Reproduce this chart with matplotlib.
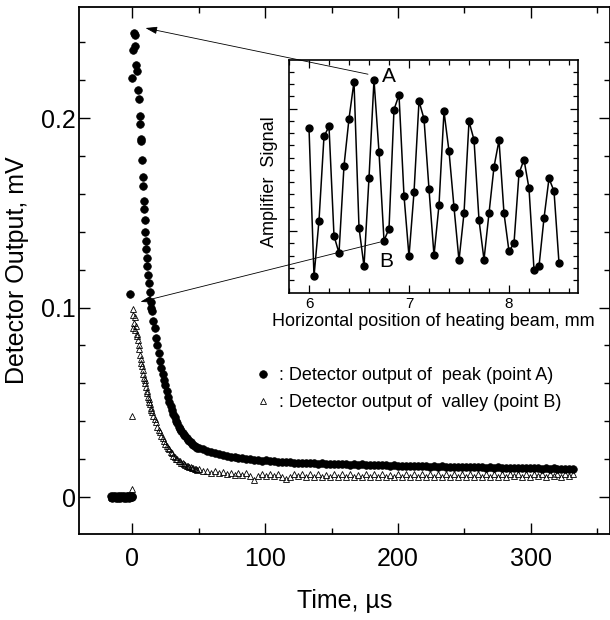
import numpy as np
import matplotlib
matplotlib.use('Agg')
import matplotlib.pyplot as plt
from matplotlib.ticker import MultipleLocator, FixedLocator, NullFormatter

plt.rcParams['font.family'] = ['Liberation Sans', 'DejaVu Sans']

# ---- main plot data (time in us, output in mV) ----
# point A (peak), filled circles
a_base_t = np.arange(-16, 0.5, 0.5)
a_base_v = [0.0003, -0.0004, 0.0001, 0.0005, -0.0002, 0.0, 0.0004, -0.0005, 0.0002, -0.0001,
            0.0006, -0.0003, 0.0, 0.0003, -0.0006, 0.0002, 0.0004, -0.0002, 0.0001, -0.0004,
            0.0005, 0.0, -0.0003, 0.0002, 0.0006, -0.0001, 0.0003, -0.0005, 0.0001, 0.0004,
            -0.0002, 0.0, 0.0003]
a_peak_t = [-1.5, 0.0, 0.9, 1.5, 1.8, 2.0, 2.9, 3.8, 4.4, 5.0,
            5.9, 6.2, 6.8, 7.0, 7.4, 7.9, 8.2, 8.8, 9.1, 9.4,
            9.7, 10.3, 10.6, 11.2, 11.5, 12.0, 12.6, 13.2, 13.8, 14.4]
a_peak_v = [0.107, 0.221, 0.236, 0.245, 0.244, 0.238, 0.228, 0.225, 0.215, 0.210,
            0.201, 0.197, 0.189, 0.188, 0.178, 0.169, 0.164, 0.156, 0.152, 0.146,
            0.140, 0.135, 0.131, 0.126, 0.122, 0.117, 0.113, 0.108, 0.103, 0.100]
mid_t = np.arange(15, 50, 1)
a_mid_v = [0.098, 0.093, 0.089, 0.084, 0.080, 0.076, 0.072, 0.068, 0.065, 0.062,
           0.059, 0.056, 0.053, 0.050, 0.048, 0.046, 0.044, 0.042, 0.040, 0.039,
           0.037, 0.036, 0.035, 0.034, 0.033, 0.032, 0.031, 0.030, 0.0295, 0.0288,
           0.028, 0.0275, 0.027, 0.0265, 0.026]
tail_t = np.arange(50, 335, 3)
# tail values in uV
a_tail_uv = [25.7, 25.1, 24.3, 23.8, 23.0, 22.7, 22.0, 21.8, 21.2, 21.1,
             20.5, 20.5, 20.0, 20.0, 19.6, 19.6, 19.2, 19.3, 18.9, 19.0,
             18.6, 18.7, 18.4, 18.4, 18.1, 18.2, 18.0, 18.0, 17.8, 17.9,
             17.6, 17.8, 17.5, 17.6, 17.4, 17.5, 17.3, 17.4, 17.1, 17.3,
             17.0, 17.2, 16.9, 17.0, 16.8, 17.0, 16.7, 16.8, 16.6, 16.8,
             16.5, 16.6, 16.4, 16.6, 16.3, 16.4, 16.2, 16.4, 16.1, 16.2,
             16.0, 16.2, 15.9, 16.0, 15.8, 16.0, 15.7, 15.9, 15.6, 15.8,
             15.6, 15.7, 15.5, 15.6, 15.4, 15.6, 15.3, 15.5, 15.3, 15.4,
             15.2, 15.4, 15.1, 15.3, 15.1, 15.2, 15.0, 15.2, 14.9, 15.1,
             14.9, 15.0, 14.8, 15.0, 14.8]

# point B (valley), open triangles
b_base_t = np.arange(-16, 1, 1)
b_base_v = [0.0002, -0.0003, 0.0004, 0.0, -0.0002, 0.0003, -0.0004, 0.0001, 0.0005, -0.0001,
            0.0002, -0.0003, 0.0, 0.0004, -0.0002, 0.0001, 0.0040]
b_peak_t = [0.0, 0.3, 0.5, 1.0, 1.5, 2.0, 2.5, 3.0, 3.5, 4.0,
            4.5, 5.0, 5.5, 6.0, 6.5, 7.0, 7.5, 8.0, 8.5, 9.0,
            9.5, 10.0, 10.5, 11.0, 11.5, 12.0, 12.5, 13.0, 13.5, 14.0, 14.5]
b_peak_v = [0.043, 0.089, 0.099, 0.096, 0.092, 0.095, 0.088, 0.090, 0.086, 0.085,
            0.083, 0.080, 0.078, 0.075, 0.073, 0.071, 0.069, 0.067, 0.065, 0.063,
            0.062, 0.060, 0.058, 0.056, 0.055, 0.053, 0.052, 0.050, 0.049, 0.047, 0.046]
b_mid_v = [0.045, 0.043, 0.041, 0.0395, 0.037, 0.0355, 0.0345, 0.032, 0.031, 0.0298,
           0.028, 0.0272, 0.0258, 0.0252, 0.0238, 0.0232, 0.0218, 0.0212, 0.0203, 0.0199,
           0.0190, 0.0188, 0.0180, 0.0179, 0.0172, 0.0171, 0.0165, 0.0164, 0.0158, 0.0159,
           0.0153, 0.0153, 0.0148, 0.0149, 0.0145]
b_tail_uv = [14.6, 13.6, 14.0, 12.9, 13.5, 12.5, 13.1, 12.0, 12.8, 11.8,
             12.7, 11.5, 12.5, 11.3, 9.0, 11.2, 12.3, 11.1, 12.2, 10.9,
             12.1, 10.8, 9.6, 10.8, 12.0, 10.9, 11.9, 10.6, 12.0, 10.8,
             11.9, 10.6, 11.8, 10.8, 12.0, 10.5, 11.9, 10.7, 12.0, 10.6,
             11.8, 10.5, 12.0, 10.8, 11.9, 10.5, 12.0, 10.7, 11.8, 10.8,
             12.0, 10.5, 11.9, 10.7, 12.0, 10.8, 11.9, 10.5, 12.1, 10.7,
             11.9, 10.8, 12.0, 10.5, 11.9, 10.7, 12.1, 10.8, 11.9, 10.7,
             12.0, 10.8, 11.9, 10.7, 12.1, 10.8, 12.0, 10.7, 11.9, 10.9,
             12.1, 10.8, 12.0, 10.7, 12.1, 10.9, 12.0, 10.8, 12.1, 10.9,
             12.0, 10.8, 12.1, 10.9, 12.0]

# ---- inset data ----
pos_mm = np.round(np.arange(6.0, 8.501, 0.05), 2)
amp_signal = [13.44, 1.32, 5.87, 12.73, 13.54, 4.62, 3.22, 10.33, 14.17, 17.19,
              5.30, 2.14, 9.35, 17.33, 11.46, 4.24, 5.19, 14.92, 16.11, 7.89,
              2.95, 8.16, 15.60, 14.17, 8.43, 3.03, 7.14, 14.76, 11.52, 6.95,
              2.62, 6.46, 13.95, 12.46, 5.92, 2.68, 6.46, 10.24, 12.41, 6.46,
              3.35, 4.03, 9.71, 10.84, 8.49, 1.87, 2.14, 6.06, 9.30, 8.27, 2.41]

a_t = np.concatenate([a_base_t, a_peak_t, mid_t, tail_t])
a_v = np.concatenate([a_base_v, a_peak_v, a_mid_v, np.array(a_tail_uv) / 1000])
b_t = np.concatenate([b_base_t, b_peak_t, mid_t, tail_t])
b_v = np.concatenate([b_base_v, b_peak_v, b_mid_v, np.array(b_tail_uv) / 1000])

fig = plt.figure(figsize=(6.1, 6.2), dpi=100)
ax = fig.add_axes([79/610, 86/620, 531/610, 527/620])

lb, = ax.plot(b_t, b_v, ls='none', marker='^', ms=5, mfc='none', mec='k', mew=0.6,
              label=': Detector output of  valley (point B)')
la, = ax.plot(a_t, a_v, ls='none', marker='o', ms=5.5, mfc='k', mec='k', mew=0.5,
              label=': Detector output of  peak (point A)')

ax.set_xlim(-40, 359.5)
ax.set_ylim(-0.0195, 0.2586)
ax.set_xticks([0, 100, 200, 300])
ax.xaxis.set_minor_locator(MultipleLocator(50))
ax.set_yticks([0, 0.1, 0.2])
ax.set_yticklabels(['0', '0.1', '0.2'])
ax.yaxis.set_minor_locator(MultipleLocator(0.02))
ax.tick_params(which='both', direction='in', top=True, right=True, labelsize=18, width=1)
ax.tick_params(which='major', length=8)
ax.tick_params(which='minor', length=4)
ax.tick_params(axis='x', pad=9)
ax.tick_params(axis='y', pad=2)
for s in ax.spines.values():
    s.set_linewidth(1.3)

ax.set_xlabel('Time, µs', fontsize=18)
ax.xaxis.set_label_coords(0.5, -0.105)
ax.set_ylabel('Detector Output, mV', fontsize=18)
ax.yaxis.set_label_coords(-0.094, 0.5)

ax.legend(handles=[la, lb], loc='upper left', bbox_to_anchor=(0.333, 0.317),
          frameon=False, fontsize=13, handlelength=0.8, handletextpad=0.5,
          labelspacing=0.55, borderpad=0, borderaxespad=0)

# ---- inset ----
ins = fig.add_axes([289/610, (620-292.5)/620, 289/610, 233/620])
ins.plot(pos_mm, amp_signal, '-o', color='k', lw=1.1, ms=5)
ins.set_xlim(5.8, 8.69)
ins.set_ylim(0, 19)
ins.set_xticks([6, 7, 8])
ins.xaxis.set_minor_locator(MultipleLocator(0.2))
ins.yaxis.set_major_locator(FixedLocator([5, 15]))
ins.yaxis.set_minor_locator(FixedLocator(np.arange(1, 19)))
ins.yaxis.set_major_formatter(NullFormatter())
ins.tick_params(which='both', direction='in', top=True, right=True, labelsize=11, width=0.9)
ins.tick_params(which='major', length=6, pad=3)
ins.tick_params(which='minor', length=3.5)
for s in ins.spines.values():
    s.set_linewidth(1.2)
ins.set_xlabel('Horizontal position of heating beam, mm', fontsize=13, labelpad=2)
ins.set_ylabel('Amplifier  Signal', fontsize=13)
ins.yaxis.set_label_coords(-0.038, 0.474)

ins.text(6.80, 17.6, 'A', fontsize=15, ha='center', va='center')
ins.text(6.77, 2.54, 'B', fontsize=15, ha='center', va='center')

arrow = dict(arrowstyle='-|>,head_length=0.7,head_width=0.22', color='k', lw=0.6,
             shrinkA=0, shrinkB=0)
ins.annotate('', xy=(10.0, 0.2475), xycoords=ax.transData, xytext=(6.59, 17.8),
             textcoords='data', arrowprops=arrow, annotation_clip=False)
ins.annotate('', xy=(6.2, 0.103), xycoords=ax.transData, xytext=(6.71, 4.11),
             textcoords='data', arrowprops=arrow, annotation_clip=False)

fig.savefig('out.png', dpi=100)
